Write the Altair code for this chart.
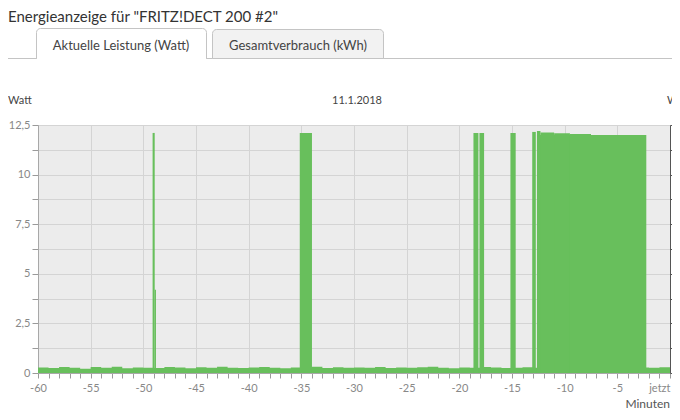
import altair as alt
import pandas as pd

# ---- data -------------------------------------------------------------
# standby readings (Watt), one per minute from -60 to 0
base_t = list(range(-60, 1))
base_w = [0.28, 0.25, 0.30, 0.27, 0.22, 0.30, 0.26, 0.31, 0.24, 0.28, 0.27,
          0.25, 0.30, 0.28, 0.24, 0.29, 0.26, 0.31, 0.27, 0.25, 0.28,
          0.30, 0.26, 0.24, 0.28, 0.27, 0.31, 0.25, 0.29, 0.26, 0.28,
          0.27, 0.30, 0.25, 0.28, 0.26, 0.29, 0.31, 0.27, 0.24, 0.28,
          0.26, 0.30, 0.28, 0.25, 0.27, 0.29, 0.26, 0.28, 0.30, 0.27,
          0.28, 0.26, 0.29, 0.27, 0.25, 0.30, 0.28, 0.26, 0.29, 0.27]

# periods of load (minutes relative to now) and their power (Watt)
ev_start = [-49.12, -48.92, -35.15, -18.66, -18.09, -15.15, -13.08, -12.63, -12.63, -12.3, -11.0, -9.5]
ev_end = [-48.92, -48.80, -33.99, -18.19, -17.65, -14.65, -12.74, -2.25, -12.3, -11.0, -9.5, -7.5]
ev_w = [12.1, 4.2, 12.1, 12.1, 12.1, 12.1, 12.15, 12.0, 12.2, 12.12, 12.08, 12.05]

y_ticks = [0, 1.25, 2.5, 3.75, 5, 6.25, 7.5, 8.75, 10, 11.25, 12.5]
x_ticks = list(range(-60, 1))

title_text = 'Energieanzeige für "FRITZ!DECT 200 #2"'
tab1_text = "Aktuelle Leistung (Watt)"
tab2_text = "Gesamtverbrauch (kWh)"
date_text = "11.1.2018"
y_title = "Watt"
x_title = "Minuten"

# ---- styling ----------------------------------------------------------
FONT = "Lato"
GREEN = "#68bf5c"
W, H = 632, 248

base_df = pd.DataFrame({"t": base_t, "w": base_w})
ev_df = pd.DataFrame({"s": ev_start, "e": ev_end, "w": ev_w})
one = pd.DataFrame({"a": [0]})

xscale = alt.Scale(domain=[-60, 0], nice=False, zero=False)
yscale = alt.Scale(domain=[0, 12.5], nice=False)

x_axis = alt.Axis(
    values=x_ticks,
    title=None,
    labelExpr="datum.value == 0 ? 'jetzt' : (datum.value % 5 == 0 ? '' + datum.value : '')",
    labelAlign={"condition": {"test": "datum.value == 0", "value": "right"}, "value": "center"},
    labelFont=FONT, labelFontSize=11, labelColor="#888888", labelPadding=4,
    tickSize=5, tickColor="#9a9a9a", domainColor="#a8a8a8",
    grid=True, gridColor="#d4d4d4",
    gridOpacity={"condition": {"test": "datum.value % 5 == 0", "value": 1}, "value": 0},
    labelOverlap=False, labelBound=False, labelFlush=False,
)
y_axis = alt.Axis(
    values=y_ticks,
    title=None,
    labelExpr="datum.value % 2.5 == 0 ? replace('' + datum.value, '.', ',') : ''",
    labelFont=FONT, labelFontSize=11, labelColor="#888888", labelPadding=2,
    tickSize=6, tickColor="#9a9a9a", domainColor="#a8a8a8",
    grid=True, gridColor="#d4d4d4", labelOverlap=False,
)
y_axis_right = alt.Axis(
    orient="right", values=y_ticks, title=None, labels=False, grid=False,
    tickSize=4, tickColor="#555555", domainColor="#555555",
)

baseline = alt.Chart(base_df).mark_area(
    interpolate="step-after", color=GREEN
).encode(
    x=alt.X("t:Q", scale=xscale, axis=x_axis),
    y=alt.Y("w:Q", scale=yscale, axis=y_axis),
)

events = alt.Chart(ev_df).mark_rect(fill=GREEN).encode(
    x=alt.X("s:Q", scale=xscale, axis=x_axis),
    x2="e:Q",
    y=alt.Y("w:Q", scale=yscale, axis=None),
    y2=alt.datum(0),
)

right_axis = alt.Chart(base_df).mark_point(opacity=0).encode(
    x=alt.X("t:Q", scale=xscale, axis=x_axis),
    y=alt.Y("w:Q", scale=yscale, axis=y_axis_right),
)


def text(s, x, y, size=11, color="#333333", align="left", weight="normal"):
    return alt.Chart(one).mark_text(
        text=s, font=FONT, fontSize=size, color=color, align=align,
        baseline="middle", fontWeight=weight,
    ).encode(x=alt.value(x), y=alt.value(y))


def rule(x1, x2, y1, y2, color, width=1):
    return alt.Chart(one).mark_rule(color=color, strokeWidth=width).encode(
        x=alt.value(x1), x2=alt.value(x2), y=alt.value(y1), y2=alt.value(y2)
    )


tab_line = rule(-40, 640, -66.5, -66.5, "#c4c4c4")
tab2 = alt.Chart(one).mark_rect(
    fill="#f2f2f2", stroke="#c4c4c4", strokeWidth=1,
    cornerRadiusTopLeft=4, cornerRadiusTopRight=4,
).encode(x=alt.value(174.5), x2=alt.value(345.5), y=alt.value(-95.5), y2=alt.value(-66.5))
tab1 = alt.Chart(one).mark_rect(
    fill="#ffffff", stroke="#c4c4c4", strokeWidth=1,
    cornerRadiusTopLeft=4, cornerRadiusTopRight=4,
).encode(x=alt.value(-1.5), x2=alt.value(168.5), y=alt.value(-96.5), y2=alt.value(-66.5))
tab1_cover = rule(-1, 168, -66.5, -66.5, "#ffffff", 2)

chart = alt.layer(
    baseline,
    events,
    right_axis,
    tab_line, tab2, tab1, tab1_cover,
    text(title_text, -30, -108, size=15, color="#333333"),
    text(tab1_text, 83, -79, size=13, color="#444444", align="center"),
    text(tab2_text, 260, -79, size=13, color="#444444", align="center"),
    text(y_title, -30, -24, size=11, color="#444444"),
    text(date_text, 319, -24, size=11, color="#444444", align="center"),
    text(y_title, 629, -24, size=11, color="#444444"),
    text(x_title, 632, 279, size=12, color="#555555", align="right"),
).resolve_axis(y="independent").properties(
    width=W, height=H,
    autosize=alt.AutoSizeParams(type="none"),
    padding={"left": 30, "top": 117, "right": 2, "bottom": 38},
    background="#ffffff",
).configure_view(fill="#ececec", stroke="#b4b4b4")

chart.save("out.html", embed_options={"renderer": "svg", "actions": False})
